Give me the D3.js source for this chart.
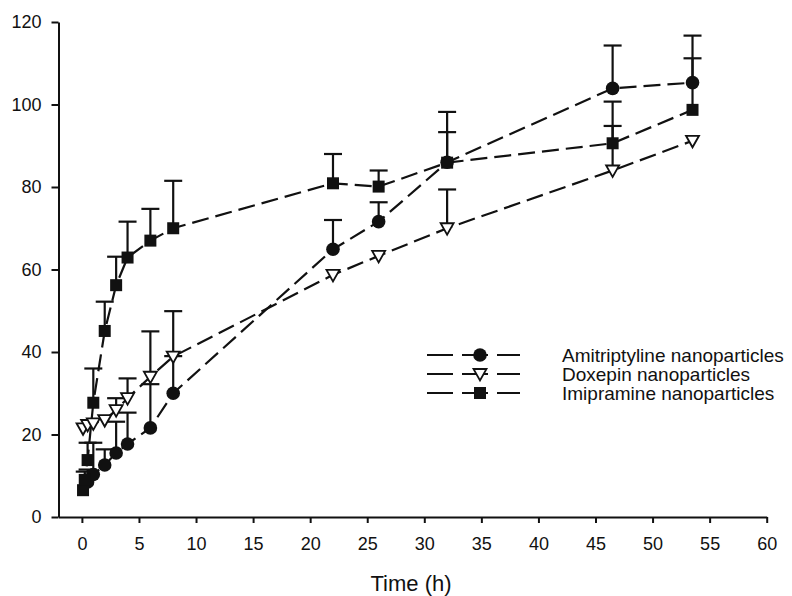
<!DOCTYPE html>
<html lang="en">
<head>
<meta charset="UTF-8">
<title>Release profile</title>
<script src="https://d3js.org/d3.v7.min.js"></script>
<style>
    body { margin: 0; background: #fff; }
    svg text { font-family: "Liberation Sans", Arial, sans-serif; fill: #111; }
    .axis path, .axis line { stroke: #111; stroke-width: 2; }
    .series { fill: none; stroke: #111; stroke-width: 2.2; stroke-dasharray: 17,7; }
    .err { stroke: #111; stroke-width: 2.2; }
</style>
</head>
<body>
<svg width="792" height="596"></svg>
<script>
// data
const xTicks = [0, 5, 10, 15, 20, 25, 30, 35, 40, 45, 50, 55, 60];
const yTicks = [0, 20, 40, 60, 80, 100, 120];

const amiTime = [0.5, 1, 2, 3, 4, 6, 8, 22, 26, 32, 46.5, 53.5];
const amiVal  = [8.5, 10.3, 12.6, 15.5, 17.7, 21.6, 30, 64.9, 71.6, 86, 103.9, 105.3];
const amiErr  = [3, 7.7, 3.8, 7.6, 7.6, 10.6, 9, 7.1, 4.7, 7.3, 10.4, 11.4];

const doxTime = [0.1, 0.5, 1, 2, 3, 4, 6, 8, 22, 26, 32, 46.5, 53.5];
const doxVal  = [21.5, 22.3, 22.7, 23.5, 25.9, 28.8, 34, 38.9, 58.7, 63.3, 70, 84, 91.2];
const doxErr  = [0, 0, 0, 0, 2.9, 4.8, 11, 11, 0, 0, 9.4, 10.8, 0];

const impTime = [0.1, 0.25, 0.5, 1, 2, 3, 4, 6, 8, 22, 26, 32, 46.5, 53.5];
const impVal  = [6.5, 9, 13.8, 27.7, 45.1, 56.2, 62.9, 67, 70, 80.9, 80.1, 85.9, 90.6, 98.7];
const impErr  = [0, 2, 4.2, 8.3, 7.1, 6.9, 8.7, 7.7, 11.5, 7.1, 3.9, 12.3, 10.1, 12.5];

const names = ["Amitriptyline nanoparticles", "Doxepin nanoparticles", "Imipramine nanoparticles"];

const svg = d3.select("svg");
const x = d3.scaleLinear().domain([-2.05, 60]).range([58.5, 766.7]);
const y = d3.scaleLinear().domain([0, 120]).range([517, 22]);

// axes
svg.append("g")
    .attr("class", "axis")
    .attr("transform", "translate(0,517)")
    .call(d3.axisBottom(x).tickValues(xTicks).tickSize(6).tickPadding(14).tickSizeOuter(0));

svg.append("g")
    .attr("class", "axis")
    .attr("transform", "translate(58.5,0)")
    .call(d3.axisLeft(y).tickValues(yTicks).tickSize(7).tickPadding(10).tickSizeOuter(0));

svg.selectAll(".axis text")
    .attr("font-size", 18)
    .attr("font-family", "Liberation Sans, Arial, sans-serif");

svg.append("text")
    .attr("x", 411).attr("y", 591)
    .attr("text-anchor", "middle")
    .attr("font-size", 22)
    .text("Time (h)");

const line = d3.line().x(d => x(d.t)).y(d => y(d.v));

function build(time, vals, errs) {
    return time.map((t, i) => ({t: t, v: vals[i], e: errs[i]}));
}

const series = [
    {data: build(amiTime, amiVal, amiErr), shape: "circle"},
    {data: build(doxTime, doxVal, doxErr), shape: "triangle"},
    {data: build(impTime, impVal, impErr), shape: "square"}
];

function marker(sel, shape) {
    if (shape === "circle") {
        sel.append("circle").attr("r", 6.8).attr("fill", "#111");
    } else if (shape === "square") {
        sel.append("rect").attr("x", -6).attr("y", -6).attr("width", 12).attr("height", 12).attr("fill", "#111");
    } else {
        sel.append("path").attr("d", "M-6.5,-5 L6.5,-5 L0,6.5 Z")
            .attr("fill", "#fff").attr("stroke", "#111").attr("stroke-width", 1.8);
    }
}

// error bars first, then lines, then markers
series.forEach(s => {
    const eb = svg.append("g").selectAll("g")
        .data(s.data.filter(d => d.e > 0)).join("g");
    eb.append("line").attr("class", "err")
        .attr("x1", d => x(d.t)).attr("x2", d => x(d.t))
        .attr("y1", d => y(d.v)).attr("y2", d => y(d.v + d.e));
    eb.append("line").attr("class", "err")
        .attr("x1", d => x(d.t) - 9).attr("x2", d => x(d.t) + 9)
        .attr("y1", d => y(d.v + d.e)).attr("y2", d => y(d.v + d.e));
});

series.forEach(s => {
    svg.append("path").datum(s.data).attr("class", "series").attr("d", line);
});

series.forEach(s => {
    svg.append("g").selectAll("g")
        .data(s.data).join("g")
        .attr("transform", d => "translate(" + x(d.t) + "," + y(d.v) + ")")
        .call(marker, s.shape);
});

// legend
const legend = svg.append("g");
const rowY = [355, 374, 393];
series.forEach((s, i) => {
    const g = legend.append("g").attr("transform", "translate(0," + rowY[i] + ")");
    g.append("line").attr("x1", 427).attr("x2", 520).attr("y1", 0).attr("y2", 0)
        .attr("stroke", "#111").attr("stroke-width", 2).attr("stroke-dasharray", "26,9");
    g.append("g").attr("transform", "translate(480,0)").call(marker, s.shape);
    g.append("text").attr("x", 562).attr("y", 6.5).attr("font-size", 19).text(names[i]);
});
</script>
</body>
</html>
